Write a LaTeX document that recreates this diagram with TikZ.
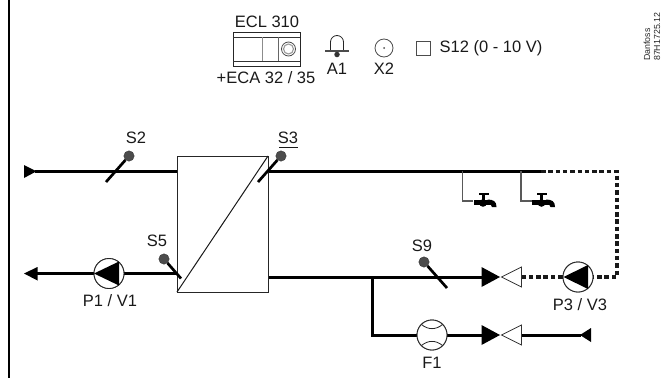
\documentclass[tikz,border=0pt]{standalone}
\usepackage{fontspec}
\setmainfont{Liberation Sans}
\begin{document}
\begin{tikzpicture}[x=1pt,y=-1pt,
  lbl/.style={inner sep=0pt,font=\fontsize{16.5}{16.5}\selectfont,text=black!90},
  tiny/.style={inner sep=0pt,rotate=90,anchor=west,font=\fontsize{8.8}{8.8}\selectfont,text=black!85},
  pipe/.style={line width=3pt,black},
  dpipe/.style={line width=3.2pt,black!90,dash pattern=on 4.5pt off 2.8pt},
  thin/.style={line width=1.2pt,black!65},
  stem/.style={line width=2.7pt,black},
  dot/.style={circle,fill=black!70,draw=black!80,line width=.3pt,minimum size=10.5pt,inner sep=0pt},
  disc/.style={circle,draw=black!85,fill=white,line width=.9pt,minimum size=30pt,inner sep=0pt},
  box/.style={draw=black!85,fill=white,line width=1pt,inner sep=0pt}]
\useasboundingbox (0,0) rectangle (663,378);
% frame line
\coordinate (ft) at (8.7,0); \coordinate (fb) at (8.7,378);
\draw[line width=2.2pt,black] (ft) -- (fb);
% coordinates
\coordinate (inL) at (35,171.3);
\coordinate (outL) at (36,273.5);
\coordinate (hxTR) at (268,156); \coordinate (hxBL) at (177,292);
\coordinate (topR) at (541,171.3);
\coordinate (cor1) at (617,171.3);
\coordinate (cor2) at (617,277);
\coordinate (v1) at (481.5,277);
\coordinate (v2) at (521.5,277);
\coordinate (v3) at (481.5,335);
\coordinate (v4) at (521.5,335);
\coordinate (j) at (372,277);
\coordinate (jb) at (372,335);
\coordinate (endR) at (581,335);
\coordinate (hxIn) at (177,171.3);
\coordinate (hxOutT) at (268,171.3);
\coordinate (hxInB) at (177,273.5);
\coordinate (hxOutB) at (268,277);
% pumps / meter
\node[disc] (p1) at (109,273.5) {};
\node[disc] (p3) at (578,277) {};
\node[disc] (f1) at (432,335) {};
% pipes
\draw[pipe] (inL) -- (hxIn);
\draw[pipe] (hxOutT) -- (topR);
\draw[pipe] (outL) -- (p1);
\draw[pipe] (p1) -- (hxInB);
\draw[pipe] (hxOutB) -- (v1);
\draw[pipe,line join=miter] (j) -- (jb) -- (f1);
\draw[pipe] (f1) -- (v3);
\draw[pipe] (v4) -- (endR);
\draw[dpipe] (topR) -- (cor1) -- (cor2) -- (p3);
\draw[dpipe] (p3) -- (v2);
% redraw discs above the pipes
\node[disc] at (p1) {};
\node[disc] at (p3) {};
\node[disc] at (f1) {};
% pump triangles
\fill[black] (94,273.5) -- (119,261.5) -- (119,285.5) -- cycle;
\fill[black] (563.5,277) -- (588,265) -- (588,289) -- cycle;
% meter arcs
\draw[line width=.8pt,black!85] (421.5,324.5) .. controls (428,330) and (436,330) .. (442.5,324.5);
\draw[line width=.8pt,black!85] (421.5,345.5) .. controls (428,340) and (436,340) .. (442.5,345.5);
% end tips
\fill[black] (24,165) -- (36.5,171.3) -- (24,178) -- cycle;
\fill[black] (24,273.5) -- (37.5,267) -- (37.5,280.5) -- cycle;
\fill[black] (580,335) -- (591,328) -- (591,342) -- cycle;
% valves
\foreach \y in {277,335}{
  \fill[black] (481.5,\y-10) -- (500,\y) -- (481.5,\y+10) -- cycle;
  \draw[line width=.8pt,black!80,fill=white] (521.5,\y-10) -- (501.5,\y) -- (521.5,\y+10) -- cycle;
}
% heat exchanger
\node[box,minimum width=91pt,minimum height=136pt] (hx) at (222.5,224) {};
\draw[line width=1pt,black!90] (hxTR) -- (hxBL);
% sensors
\node[dot] (s2) at (129,156) {};
\coordinate (s2e) at (106,182);
\draw[stem] (s2) -- (s2e);
\node[dot] (s3) at (281,156) {};
\coordinate (s3e) at (258,182);
\draw[stem] (s3) -- (s3e);
\node[dot] (s5) at (164,259) {};
\coordinate (s5e) at (181,278.5);
\draw[stem] (s5) -- (s5e);
\node[dot] (s9) at (424,262) {};
\coordinate (s9e) at (447,288);
\draw[stem] (s9) -- (s9e);
% taps
\coordinate (t1a) at (462.7,171.3); \coordinate (t1b) at (473,201);
\coordinate (t2a) at (521,171.3); \coordinate (t2b) at (532,201);
\draw[thin] (t1a) |- (t1b);
\draw[thin] (t2a) |- (t2b);
\foreach \x in {473.5,532}{
 \begin{scope}[shift={(\x,0)}]
  \fill[black] (0,199.5) rectangle (17,204.5);
  \fill[black] (9.5,203) circle[radius=3.8pt];
  \fill[black] (8.3,194) rectangle (11.2,200);
  \fill[black] (5,193) rectangle (15,195.4);
  \fill[black] (14,199.5) .. controls (20,199.5) and (23,201.5) .. (23,207) -- (18.5,207) .. controls (18.5,204.5) and (17,204.5) .. (14,204.5) -- cycle;
 \end{scope}
}
% labels
\node[lbl] (ls2) at (136,138) {S2};
\node[lbl] (ls3) at (288,138) {S3};
\draw[line width=.9pt,black!90] (279,147.5) -- (297.5,147.5);
\node[lbl] (ls5) at (157,241) {S5};
\node[lbl] (ls9) at (422,246) {S9};
\node[lbl] (lp1) at (110,301) {P1 / V1};
\node[lbl] (lp3) at (580,305) {P3 / V3};
\node[lbl] (lf1) at (432,363) {F1};
% controller
\node[lbl] (ecl) at (267,21.5) {ECL 310};
\node[box,minimum width=67pt,minimum height=34pt] (ctl) at (266.5,49) {};
\draw[line width=.9pt,black!80] (233,37) -- (300,37) (233,61) -- (300,61);
\draw[line width=.9pt,black!45] (262,37) -- (262,61);
\draw[line width=.9pt,black!60] (278.5,37) -- (278.5,61);
\node[circle,draw=black!70,line width=.8pt,minimum size=14pt,inner sep=0pt] (knob) at (288.5,49) {};
\node[circle,draw=black!40,line width=1.1pt,minimum size=10pt,inner sep=0pt] at (knob) {};
\node[lbl] (eca) at (266,78) {+ECA 32 / 35};
% alarm
\draw[line width=.8pt,black!85] (330.5,50) -- (330.5,42) arc[start angle=180,end angle=360,radius=6.5] -- (343.5,50);
\coordinate (bL) at (325,51); \coordinate (bR) at (349,51);
\draw[line width=1.1pt,black!70] (bL) -- (bR);
\node[circle,fill=black!80,minimum size=5.5pt,inner sep=0pt] (bell) at (337,54.5) {};
\node[lbl] (a1) at (337,68.5) {A1};
% X2
\node[circle,draw=black!70,line width=.8pt,minimum size=18pt,inner sep=0pt] (x2) at (384,48) {};
\fill[black!70] (x2.center) circle[radius=1pt];
\node[lbl] (lx2) at (384,69) {X2};
% S12
\node[draw=black!70,line width=.9pt,minimum size=14pt,inner sep=0pt] (sq) at (423,48) {};
\node[lbl,anchor=west] (s12) at (439.5,48) {S12 (0 - 10 V)};
% reference
\node[tiny] (d2) at (647,61) {Danfoss};
\node[tiny] (d3) at (657,61) {87H1725.12};
\end{tikzpicture}
\end{document}
